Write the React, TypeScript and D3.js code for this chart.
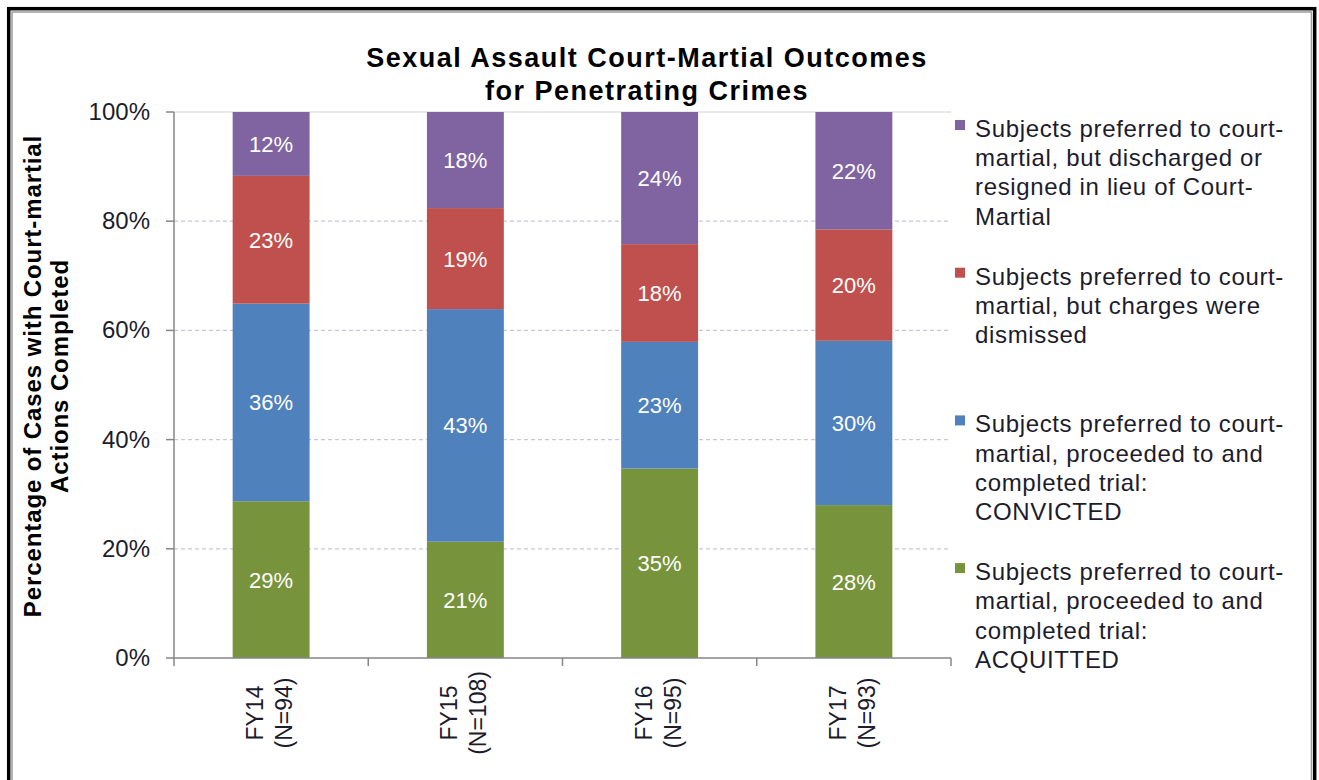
import React from "react";
import * as d3 from "d3";

const categories = ["FY14", "FY15", "FY16", "FY17"];
const sampleSizes = ["(N=94)", "(N=108)", "(N=95)", "(N=93)"];

// percent of cases per outcome (stacked bottom to top)
const acquitted = [28.7, 21.3, 34.7, 28.0];
const convicted = [36.2, 42.6, 23.2, 30.1];
const dismissed = [23.4, 18.5, 17.9, 20.4];
const discharged = [11.7, 17.6, 24.2, 21.5];

const seriesKeys = ["acquitted", "convicted", "dismissed", "discharged"];
const seriesColors = ["#77933C", "#4F81BD", "#C0504D", "#8064A2"];

const legendLines = [
  ["Subjects preferred to court-", "martial, but discharged or", "resigned in lieu of Court-", "Martial"],
  ["Subjects preferred to court-", "martial, but charges were", "dismissed"],
  ["Subjects preferred to court-", "martial, proceeded to and", "completed trial:", "CONVICTED"],
  ["Subjects preferred to court-", "martial, proceeded to and", "completed trial:", "ACQUITTED"],
];
const legendColors = ["#8064A2", "#C0504D", "#4F81BD", "#77933C"];

const yTicks = [0, 20, 40, 60, 80, 100];

const W = 1319;
const H = 780;
const font = "'Liberation Sans', Arial, sans-serif";

const App: React.FC = () => {
  const left = 174;
  const right = 951;
  const top = 112;
  const bottom = 658;

  const rows = categories.map((c, i) => ({
    cat: c,
    acquitted: acquitted[i],
    convicted: convicted[i],
    dismissed: dismissed[i],
    discharged: discharged[i],
  }));

  const stack = d3.stack<any>().keys(seriesKeys);
  const layers = stack(rows);

  const x = d3
    .scaleBand<string>()
    .domain(categories)
    .range([left, right])
    .paddingInner(0.604)
    .paddingOuter(0.302);

  const y = d3.scaleLinear().domain([0, 100]).range([bottom, top]);

  const step = (right - left) / categories.length;
  const catTicks = d3.range(categories.length + 1).map((i) => left + i * step);

  const legendY = d3.scaleLinear().domain([0, 1]).range([137, 284.7]);

  return (
    <svg
      width={W}
      height={H}
      style={{ position: "absolute", left: 0, top: 0, background: "#fff" }}
      fontFamily={font}
    >
      {/* frame */}
      <rect x={8.7} y={8.7} width={1306} height={820} fill="none" stroke="#000" strokeWidth={3.5} />
      <rect x={12} y={12} width={1299.5} height={820} fill="none" stroke="#9a9a9a" strokeWidth={1.5} />

      {/* title */}
      <text x={647} y={67} textAnchor="middle" fontSize={27} fontWeight="bold" letterSpacing={1.5} fill="#000">
        Sexual Assault Court-Martial Outcomes
      </text>
      <text x={647} y={100} textAnchor="middle" fontSize={27} fontWeight="bold" letterSpacing={1.5} fill="#000">
        for Penetrating Crimes
      </text>

      {/* gridlines */}
      {yTicks
        .filter((t) => t > 0)
        .map((t) => (
          <line
            key={t}
            x1={left}
            x2={right}
            y1={y(t)}
            y2={y(t)}
            stroke={t === 100 ? "#d4d4d4" : "#c8c6dc"}
            strokeWidth={1.2}
            strokeDasharray={t === 100 ? undefined : "4,3"}
          />
        ))}

      {/* bars */}
      {layers.map((layer, si) =>
        layer.map((d, i) => (
          <rect
            key={`${si}-${i}`}
            x={x(categories[i])}
            y={y(d[1])}
            width={x.bandwidth()}
            height={y(d[0]) - y(d[1])}
            fill={seriesColors[si]}
          />
        ))
      )}

      {/* bar labels */}
      {layers.map((layer, si) =>
        layer.map((d, i) => (
          <text
            key={`l-${si}-${i}`}
            x={(x(categories[i]) as number) + x.bandwidth() / 2}
            y={(y(d[0]) + y(d[1])) / 2 + 8}
            textAnchor="middle"
            fontSize={22}
            fill="#fff"
          >
            {Math.round(d[1] - d[0])}%
          </text>
        ))
      )}

      {/* y axis */}
      <line x1={left} x2={left} y1={top} y2={bottom} stroke="#868686" strokeWidth={1.5} />
      {yTicks.map((t) => (
        <g key={t}>
          <line x1={left - 8} x2={left} y1={y(t)} y2={y(t)} stroke="#868686" strokeWidth={1.5} />
          <text x={150} y={y(t) + 8} textAnchor="end" fontSize={24} fill="#1c1c2c">
            {t}%
          </text>
        </g>
      ))}

      {/* x axis */}
      <line x1={left} x2={right} y1={bottom} y2={bottom} stroke="#868686" strokeWidth={1.5} />
      {catTicks.map((t, i) => (
        <line key={i} x1={t} x2={t} y1={bottom} y2={bottom + 8} stroke="#868686" strokeWidth={1.5} />
      ))}
      {categories.map((c, i) => {
        const cx = (x(c) as number) + x.bandwidth() / 2;
        return (
          <text
            key={c}
            transform={`translate(${cx},713) rotate(-90)`}
            textAnchor="middle"
            fontSize={23}
            fill="#1c1c2c"
          >
            <tspan x={0} y={-8}>{c}</tspan>
            <tspan x={0} y={21}>{sampleSizes[i]}</tspan>
          </text>
        );
      })}

      {/* y axis title */}
      <text
        transform="translate(54,376) rotate(-90)"
        textAnchor="middle"
        fontSize={24}
        fontWeight="bold"
        letterSpacing={0.9}
        fill="#000"
      >
        <tspan x={0} y={-13}>Percentage of Cases with Court-martial</tspan>
        <tspan x={0} y={14}>Actions Completed</tspan>
      </text>

      {/* legend */}
      {legendLines.map((lines, li) => {
        const by = legendY(li);
        return (
          <g key={li}>
            <rect x={955} y={by - 17} width={10} height={10} fill={legendColors[li]} />
            <text x={975} y={by} fontSize={24} letterSpacing={0.65} fill="#1c1c2c">
              {lines.map((ln, k) => (
                <tspan key={k} x={975} y={by + k * 29.2}>
                  {ln}
                </tspan>
              ))}
            </text>
          </g>
        );
      })}
    </svg>
  );
};

export default App;
